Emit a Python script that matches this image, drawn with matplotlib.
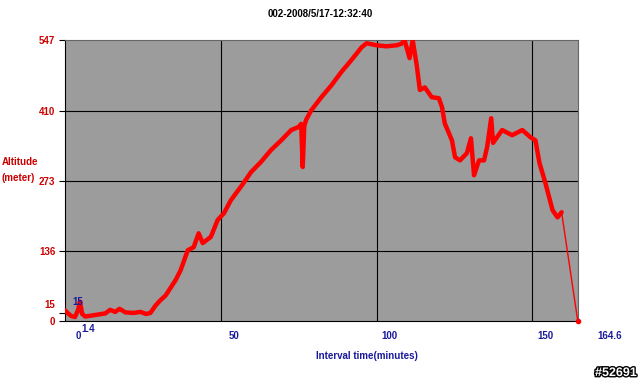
import matplotlib
matplotlib.use('Agg')
import matplotlib.pyplot as plt
import matplotlib.patheffects as pe
import matplotlib.transforms as mtransforms
import numpy as np

plt.rcParams['font.family'] = ['Liberation Sans', 'DejaVu Sans']

# time (minutes) and altitude (meter)
t = [0, 1.0, 2.0, 3.2, 4.2, 4.8, 5.5, 6.5, 9.7, 12.9, 14.5, 16.1, 17.5, 19.4,
     22.0, 24.2, 26.0, 27.4, 29.0, 30.5, 32.3, 35.5, 37.1, 39.4, 41.3, 42.9,
     44.2, 46.8, 49.0, 51.0, 53.2, 55.0, 56.5, 59.7, 62.9, 66.1, 69.4, 72.6,
     75.0, 75.8, 76.3, 76.8, 77.4, 79.0, 82.3, 85.5, 88.7, 91.9, 95.2, 96.8,
     100.0, 103.2, 106.5, 108.0, 109.0, 110.6, 111.6, 112.9, 113.9, 115.5,
     117.7, 120.0, 121.0, 121.9, 124.2, 125.2, 126.8, 129.0, 130.3, 131.3,
     132.9, 134.5, 135.5, 136.8, 137.4, 140.3, 143.5, 146.8, 149.4, 151.0,
     152.3, 154.2, 156.5, 158.1, 159.4]
alt = [21, 15, 10, 8, 22, 38, 14, 9, 12, 15, 22, 18, 24, 17, 16, 18, 14, 16,
       30, 40, 50, 80, 99, 138, 144, 171, 152, 164, 197, 210, 235, 250, 262,
       290, 310, 333, 352, 372, 378, 384, 300, 380, 392, 410, 436, 459, 485,
       508, 533, 541, 537, 535, 537, 540, 547, 512, 547, 498, 450, 455, 436,
       434, 417, 385, 352, 319, 313, 327, 356, 284, 313, 313, 339, 395, 347,
       372, 362, 372, 358, 352, 308, 269, 216, 202, 212]
t_end = [159.4, 164.6]
alt_end = [212, 0]

yticks = [0, 15, 136, 273, 410, 547]
xticks = [0, 50, 100, 150, 164.6]
xlabels = ['0', '50', '100', '150', '164.6']

red = '#cc0000'
blue = '#1a1a9c'

fig = plt.figure(figsize=(6.4, 3.86), dpi=100)
ax = fig.add_axes([0.1016, 0.168, 0.8012, 0.728])
ax.set_facecolor('#9c9c9c')

for v in [50, 100, 150]:
    ax.axvline(v, color='black', lw=0.8, zorder=1)
for v in [136, 273, 410]:
    ax.axhline(v, color='black', lw=0.8, zorder=1)

ax.plot(t, alt, color='#ff0000', lw=3.2, solid_joinstyle='round',
        solid_capstyle='round', zorder=3)
ax.plot(t_end, alt_end, color='#ff0000', lw=1.0, zorder=3)
ax.plot(t_end[-1:], alt_end[-1:], 'o', color='#ff0000', ms=3, zorder=4,
        clip_on=False)

ax.set_xlim(0, 164.6)
ax.set_ylim(0, 547)
ax.set_yticks(yticks)
ax.set_yticklabels([str(v) for v in yticks], color=red, fontsize=7,
                   fontweight='bold')
ax.set_xticks(xticks)
ax.set_xticklabels(xlabels, color=blue, fontsize=7, fontweight='bold')
ax.tick_params(axis='y', length=4, width=0.8, pad=3)
ax.tick_params(axis='x', length=0, pad=7)
off = mtransforms.ScaledTranslation(0.13, 0, fig.dpi_scale_trans)
off_last = mtransforms.ScaledTranslation(0.32, 0, fig.dpi_scale_trans)
xlabs = ax.get_xticklabels()
for lab in xlabs[:-1]:
    lab.set_transform(lab.get_transform() + off)
xlabs[-1].set_transform(xlabs[-1].get_transform() + off_last)
up = mtransforms.ScaledTranslation(0, 0.09, fig.dpi_scale_trans)
ylabs = ax.get_yticklabels()
ylabs[1].set_transform(ylabs[1].get_transform() + up)

for s in ['top', 'right']:
    ax.spines[s].set_color('#666666')
ax.spines['left'].set_color('black')
ax.spines['bottom'].set_color('black')

# first point labels
ax.text(4.0, 28, '15', color=blue, fontsize=7, fontweight='bold',
        va='bottom', ha='center')
ax.text(7.5, -5, '1.4', color=blue, fontsize=7, fontweight='bold',
        va='top', ha='center')

fig.text(0.5, 0.965, '002-2008/5/17-12:32:40', ha='center', va='center',
         fontsize=7, fontweight='bold')
fig.text(0.003, 0.56, 'Altitude\n(meter)', ha='left', va='center',
         fontsize=7, fontweight='bold', color=red, linespacing=1.8)
fig.text(0.573, 0.078, 'Interval time(minutes)', ha='center', va='center',
         fontsize=7, fontweight='bold', color=blue)
fig.text(0.995, 0.018, '#52691', ha='right', va='bottom', fontsize=9,
         fontweight='bold', color='white',
         path_effects=[pe.withStroke(linewidth=2, foreground='black')])

fig.savefig('out.png', dpi=100)
